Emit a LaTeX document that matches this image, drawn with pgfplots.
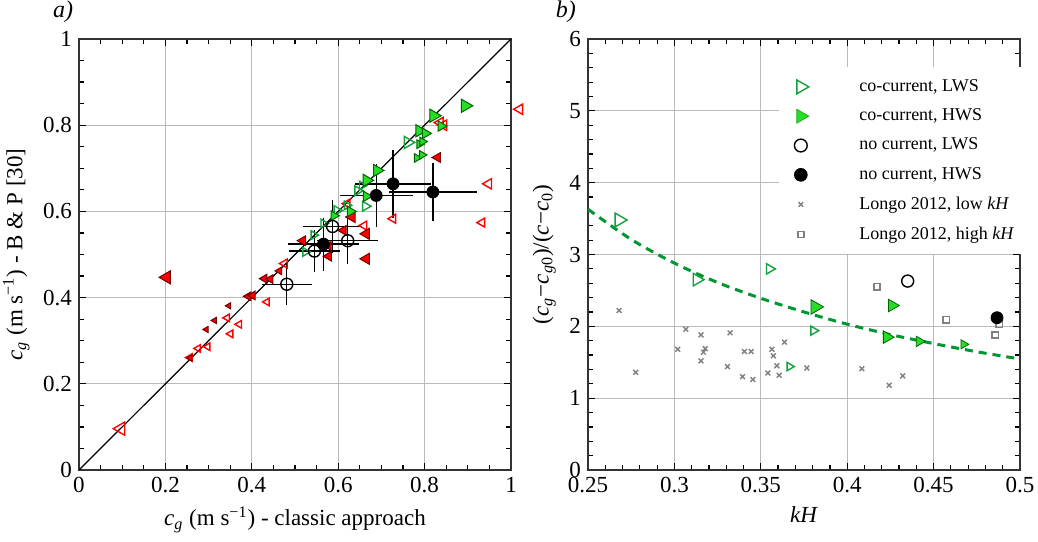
\documentclass[border=0pt]{standalone}
\usepackage{fontspec}
\setmainfont{Liberation Serif}
\usepackage{pgfplots}
\pgfplotsset{compat=1.18}

\definecolor{opgreen}{RGB}{20,160,60}
\definecolor{figreen}{RGB}{40,220,40}
\definecolor{edgegreen}{RGB}{0,100,0}
\definecolor{curvegreen}{RGB}{0,150,50}
\definecolor{ptgray}{RGB}{128,128,128}

\newcommand{\tk}{\fontsize{11.5}{13}\selectfont}

\pgfplotsset{
  panel/.style={
    scale only axis, width=216pt, height=215.5pt,
    grid=major, major grid style={gray!55, line width=0.5pt},
    axis line style={black!80, line width=0.8pt},
    tick style={black, line width=0.6pt},
    major tick length=3.5pt, minor tick length=2.5pt,
    tick label style={font=\tk},
    label style={font=\tk},
    /pgf/number format/assume math mode=true,
    xticklabel={\pgfmathprintnumber{\tick}},
    yticklabel={\pgfmathprintnumber{\tick}},
    clip=false,
  },
  % per-point mark size, applied after the colour keys
  sz/.style={
    visualization depends on={\thisrow{s} \as \ms},
    scatter/@pre marker code/.append style={/tikz/mark size=\ms}},
}

\begin{document}
\begin{tikzpicture}

% ---------- a) ----------
\begin{axis}[panel, at={(39.5pt,35.5pt)},
  xmin=0, xmax=1, ymin=0, ymax=1,
  xtick={0,0.2,0.4,0.6,0.8,1}, ytick={0,0.2,0.4,0.6,0.8,1},
  minor x tick num=3, minor y tick num=3,
  xlabel={\textit{c}\textsubscript{\textit{g}} (m s\textsuperscript{−1}) - classic approach},
  ylabel={\textit{c}\textsubscript{\textit{g}} (m s\textsuperscript{−1}) - B \& P [30]},
]
\addplot[black, line width=0.6pt] coordinates {(0,0) (1,1)};

% red, open (LWS)
\addplot[scatter, only marks, mark=triangle, mark options={rotate=90, line width=0.7pt},
  scatter/use mapped color={draw=red, fill=white}, sz] table {
x y s
0.097 0.096 3.8
0.257 0.261 2.2
0.276 0.282 2.2
0.298 0.286 2.2
0.343 0.353 2.2
0.371 0.338 2.2
0.351 0.316 2.2
0.435 0.390 2.2
0.476 0.479 2.6
0.621 0.618 2.6
0.660 0.567 2.6
0.727 0.583 2.6
0.836 0.806 3.0
0.844 0.800 3.0
1.020 0.837 3.0
0.948 0.664 3.0
0.933 0.574 2.6
};
% red, filled (HWS)
\addplot[scatter, only marks, mark=triangle*, mark options={rotate=90, line width=0.5pt},
  scatter/use mapped color={draw=red!45!black, fill=red}, sz] table {
x y s
0.203 0.447 3.8
0.257 0.260 1.8
0.295 0.326 1.8
0.314 0.347 1.8
0.347 0.381 1.8
0.392 0.403 2.5
0.402 0.405 2.5
0.429 0.444 2.5
0.443 0.443 2.5
0.464 0.462 2.2
0.518 0.532 2.8
0.578 0.496 2.8
0.578 0.520 2.5
0.612 0.556 2.8
0.632 0.587 3.2
0.665 0.548 3.2
0.665 0.490 3.2
0.830 0.725 2.8
};
% green, open (co-current LWS)
\addplot[scatter, only marks, mark=triangle, mark options={rotate=-90, line width=0.7pt},
  scatter/use mapped color={draw=opgreen, fill=white}, sz] table {
x y s
0.761 0.760 3.5
0.645 0.648 2.8
0.655 0.660 2.5
0.663 0.612 2.8
0.620 0.614 2.5
0.597 0.602 2.8
0.566 0.572 2.5
0.543 0.545 2.5
0.524 0.506 2.5
};
% green, filled (co-current HWS)
\addplot[scatter, only marks, mark=triangle*, mark options={rotate=-90, line width=0.5pt},
  scatter/use mapped color={draw=edgegreen, fill=figreen}, sz] table {
x y s
0.894 0.845 3.8
0.821 0.822 3.8
0.788 0.787 3.5
0.802 0.781 3.0
0.838 0.798 3.0
0.788 0.756 2.5
0.795 0.762 2.5
0.782 0.724 2.5
0.794 0.731 2.5
0.690 0.695 3.5
0.666 0.672 3.5
0.665 0.635 3.0
0.628 0.600 3.0
0.590 0.590 2.8
};
% no current, with error bars
\addplot[only marks, mark=o, mark size=3pt, mark options={black, line width=0.7pt},
  error bars/.cd, x dir=both, x explicit, y dir=both, y explicit,
  error bar style={black, line width=0.7pt}, error mark options={black, mark size=2.4pt, line width=0.7pt}]
  table[x error=ex, y error=ey] {
x y ex ey
0.481 0.431 0.047 0.037
0.545 0.508 0.048 0.038
0.587 0.565 0.057 0.051
0.622 0.532 0.060 0.042
};
\addplot[only marks, mark=*, mark size=3pt, mark options={black},
  error bars/.cd, x dir=both, x explicit, y dir=both, y explicit,
  error bar style={black, line width=0.7pt}, error mark options={black, mark size=2.4pt, line width=0.7pt}]
  table[x error=ex, y error=ey] {
x y ex ey
0.566 0.524 0.070 0.050
0.688 0.637 0.073 0.062
0.727 0.664 0.076 0.068
0.819 0.645 0.091 0.055
};
\node[font=\fontsize{12}{14}\selectfont] at (rel axis cs:-0.037,1.063) {\textit{a)}};
\end{axis}

% ---------- b) ----------
\begin{axis}[panel, at={(294pt,35.5pt)},
  xmin=0.25, xmax=0.5, ymin=0, ymax=6,
  xtick={0.25,0.3,0.35,0.4,0.45,0.5}, ytick={0,1,2,3,4,5,6},
  minor x tick num=4, minor y tick num=4,
  xticklabel style={/pgf/number format/fixed, /pgf/number format/precision=2},
  xlabel={\textit{kH}},
  ylabel={(\textit{c}\textsubscript{\textit{g}}−\textit{c}\textsubscript{\textit{g}0})/(\textit{c}−\textit{c}\textsubscript{0})},
  legend style={at={(0.442,0.935)}, anchor=north west, draw=none, fill=white,
    font=\fontsize{9}{11}\selectfont, row sep=3.2pt, inner xsep=2pt, inner ysep=4pt},
  legend cell align=left,
  legend image code/.code={\path (0cm,0cm) (1.25cm,0cm);
    \draw[#1] plot coordinates {(0.3cm,0cm)};},
]
\addlegendimage{only marks, mark=triangle, mark size=4pt, mark options={rotate=-90, draw=opgreen, line width=0.7pt}}
\addlegendentry{co-current, LWS}
\addlegendimage{only marks, mark=triangle*, mark size=4pt, mark options={rotate=-90, draw=figreen!80!black, fill=figreen, line width=0.4pt}}
\addlegendentry{co-current, HWS}
\addlegendimage{only marks, mark=o, mark size=3.2pt, mark options={black, line width=0.7pt}}
\addlegendentry{no current, LWS}
\addlegendimage{only marks, mark=*, mark size=3.2pt, mark options={black}}
\addlegendentry{no current, HWS}
\addlegendimage{only marks, mark=x, mark size=1.6pt, mark options={ptgray, line width=0.7pt}}
\addlegendentry{Longo 2012, low \textit{kH}}
\addlegendimage{only marks, mark=square, mark size=1.5pt, mark options={ptgray, line width=0.8pt}}
\addlegendentry{Longo 2012, high \textit{kH}}

% Longo 2012, low kH
\addplot[forget plot, only marks, mark=x, mark size=1.7pt, mark options={ptgray, line width=0.7pt}] table {
x y
0.268 2.22
0.2776 1.36
0.3019 1.68
0.3066 1.96
0.3154 1.88
0.3154 1.52
0.3168 1.64
0.3178 1.69
0.3307 1.44
0.3322 1.91
0.3394 1.30
0.3405 1.65
0.3444 1.65
0.3454 1.26
0.3541 1.35
0.3564 1.68
0.3573 1.59
0.3593 1.45
0.3606 1.32
0.3637 1.78
0.3766 1.42
0.4085 1.41
0.4243 1.18
0.4321 1.31
};
% Longo 2012, high kH
\addplot[forget plot, only marks, mark=square, mark size=1.6pt, mark options={ptgray, line width=0.8pt}] table {
x y
0.4172 2.55
0.4573 2.09
0.4857 1.88
0.4880 2.03
};
% fitted curve
\addplot[forget plot, curvegreen, line width=1.5pt, dash pattern=on 4pt off 3pt, smooth] coordinates {
(0.25,3.63) (0.275,3.21) (0.30,2.88) (0.325,2.61) (0.35,2.39) (0.375,2.20)
(0.40,2.03) (0.425,1.885) (0.45,1.76) (0.475,1.646) (0.50,1.546)
};
% co-current LWS
\addplot[forget plot, scatter, only marks, mark=triangle, mark options={rotate=-90, line width=0.7pt},
  scatter/use mapped color={draw=opgreen, fill=white}, sz] table {
x y s
0.268 3.48 4.0
0.313 2.65 3.6
0.355 2.80 3.0
0.3805 1.94 2.6
0.3666 1.44 2.4
};
% co-current HWS
\addplot[forget plot, scatter, only marks, mark=triangle*, mark options={rotate=-90, line width=0.4pt},
  scatter/use mapped color={draw=edgegreen, fill=figreen}, sz] table {
x y s
0.3815 2.27 4.2
0.426 2.29 3.6
0.423 1.85 3.6
0.4417 1.79 3.0
0.4674 1.75 2.6
};
\addplot[forget plot, only marks, mark=o, mark size=3pt, mark options={black, line width=0.7pt}] coordinates {(0.435,2.63)};
\addplot[forget plot, only marks, mark=*, mark size=3pt, mark options={black}] coordinates {(0.4867,2.12)};
\node[font=\fontsize{12}{14}\selectfont] at (rel axis cs:-0.051,1.063) {\textit{b)}};
\end{axis}

\pgfresetboundingbox
\path (0,0) rectangle (519pt,270.5pt);
\end{tikzpicture}
\end{document}
